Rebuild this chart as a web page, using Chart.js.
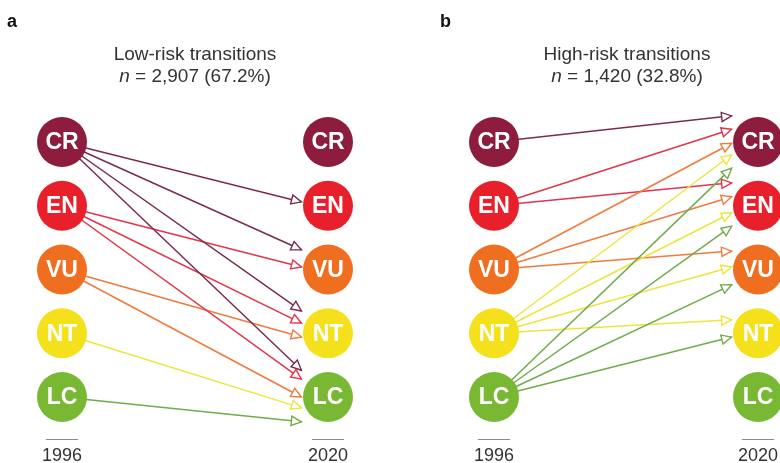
<!DOCTYPE html>
<html>
<head>
<meta charset="utf-8">
<script src="https://cdn.jsdelivr.net/npm/chart.js@4/dist/chart.umd.min.js"></script>
<style>
  html, body { margin: 0; padding: 0; background: #fff; }
  #page { position: relative; width: 780px; height: 463px; overflow: hidden;
          font-family: "Liberation Sans", Arial, sans-serif; color: #333; }
  .panel { position: absolute; top: 0; width: 390px; height: 463px; }
  .title { position: absolute; top: 43px; text-align: center; font-size: 19px;
           line-height: 22px; color: #333; white-space: nowrap; }
  .tag { position: absolute; top: 12px; font-weight: bold; font-size: 18px;
         line-height: 18px; color: #111; }
</style>
</head>
<body>
<div id="page">
  <div class="panel" style="left:0"><canvas id="lowChart"></canvas></div>
  <div class="panel" style="left:390px"><canvas id="highChart"></canvas></div>
  <div class="tag" style="left:7px">a</div>
  <div class="tag" style="left:440px">b</div>
  <div class="title" style="left:0;width:390px">Low-risk transitions<br><i>n</i> = 2,907 (67.2%)</div>
  <div class="title" style="left:447px;width:360px">High-risk transitions<br><i>n</i> = 1,420 (32.8%)</div>
</div>
<script>
// Red List categories, bottom (level 1) to top (level 5)
const statuses = ['LC', 'NT', 'VU', 'EN', 'CR'];
const years = ['1996', '2020'];
const circleColors = ['#79b833', '#f4e11c', '#f06e1f', '#e8202b', '#8d1c3d'];
const arrowColors  = ['#70ab4c', '#ebe63c', '#ee7b3e', '#e2344a', '#7a2c4e'];

// Low-risk transitions: source category and level where each arrow ends
const lowFrom = ['CR', 'CR', 'CR', 'CR', 'EN', 'EN', 'EN', 'VU', 'VU', 'NT', 'LC'];
const lowTo   = [4.06, 3.31, 2.35, 1.42, 3.04, 2.16, 1.28, 1.94, 1.00, 0.83, 0.61];

// High-risk transitions
const highFrom = ['CR', 'EN', 'VU', 'NT', 'LC', 'EN', 'VU', 'NT', 'LC', 'VU', 'NT', 'LC', 'NT', 'LC'];
const highTo   = [5.41, 5.20, 4.98, 4.80, 4.59, 4.36, 4.14, 3.89, 3.68, 3.29, 3.04, 2.76, 2.21, 1.94];

// horizontal position where arrow tips stop (0 = 1996 column, 1 = 2020 column)
const arrowEnd = 0.9;

const level = s => statuses.indexOf(s) + 1;

function buildDatasets(from, to) {
  const sets = from.map((s, i) => ({
    arrow: true,
    showLine: true,
    data: [{ x: 0, y: level(s) }, { x: arrowEnd, y: to[i] }],
    borderColor: arrowColors[level(s) - 1],
    borderWidth: 1.5,
    pointRadius: 0,
    pointHoverRadius: 0,
    clip: false,
    order: 2
  }));
  const nodes = [];
  const colors = [];
  const names = [];
  [0, 1].forEach(x => statuses.forEach((s, i) => {
    nodes.push({ x: x, y: i + 1 });
    colors.push(circleColors[i]);
    names.push(s);
  }));
  sets.push({
    nodeLabels: names,
    data: nodes,
    backgroundColor: colors,
    borderWidth: 0,
    pointRadius: 25,
    pointHoverRadius: 25,
    clip: false,
    order: 0
  });
  return sets;
}

// open triangular arrowheads at the end of each transition line
const arrowHeads = {
  id: 'arrowHeads',
  afterDatasetDraw(chart, args) {
    const ds = chart.data.datasets[args.index];
    if (!ds.arrow) return;
    const [a, b] = args.meta.data;
    const dx = b.x - a.x, dy = b.y - a.y;
    const len = Math.hypot(dx, dy);
    const ux = dx / len, uy = dy / len;
    const L = 10, W = 4.6;
    const bx = b.x - ux * L, by = b.y - uy * L;
    const ctx = chart.ctx;
    ctx.save();
    ctx.beginPath();
    ctx.moveTo(b.x, b.y);
    ctx.lineTo(bx - uy * W, by + ux * W);
    ctx.lineTo(bx + uy * W, by - ux * W);
    ctx.closePath();
    ctx.fillStyle = '#fff';
    ctx.fill();
    ctx.lineWidth = 1.4;
    ctx.lineJoin = 'miter';
    ctx.strokeStyle = ds.borderColor;
    ctx.stroke();
    ctx.restore();
  }
};

// category abbreviations inside the circles and short rules above the years
const nodeText = {
  id: 'nodeText',
  afterDatasetsDraw(chart) {
    const ctx = chart.ctx;
    chart.data.datasets.forEach((ds, di) => {
      if (!ds.nodeLabels) return;
      const meta = chart.getDatasetMeta(di);
      ctx.save();
      ctx.fillStyle = '#fff';
      ctx.font = 'bold 23px "Liberation Sans", Arial, sans-serif';
      ctx.textAlign = 'center';
      ctx.textBaseline = 'middle';
      meta.data.forEach((pt, i) => ctx.fillText(ds.nodeLabels[i], pt.x, pt.y + 1));
      ctx.restore();
    });
    const xs = chart.scales.x;
    ctx.save();
    ctx.strokeStyle = '#8a8a8a';
    ctx.lineWidth = 1;
    xs.ticks.forEach(t => {
      const px = xs.getPixelForValue(t.value);
      ctx.beginPath();
      ctx.moveTo(px - 16, xs.top + 4.5);
      ctx.lineTo(px + 16, xs.top + 4.5);
      ctx.stroke();
    });
    ctx.restore();
  }
};

function makeChart(id, from, to, xMin, xMax) {
  return new Chart(document.getElementById(id), {
    type: 'scatter',
    data: { datasets: buildDatasets(from, to) },
    options: {
      responsive: true,
      maintainAspectRatio: false,
      animation: false,
      events: [],
      layout: { padding: 0, autoPadding: false },
      plugins: { legend: { display: false }, tooltip: { enabled: false }, title: { display: false } },
      scales: {
        x: {
          type: 'linear', min: xMin, max: xMax,
          grid: { display: false, drawTicks: false },
          border: { display: false },
          afterBuildTicks: s => { s.ticks = [{ value: 0 }, { value: 1 }]; },
          afterFit: s => { s.height = 28; s.paddingLeft = 0; s.paddingRight = 0; },
          ticks: {
            padding: 10,
            color: '#333',
            font: { size: 18, family: '"Liberation Sans", Arial, sans-serif' },
            callback: v => years[v]
          }
        },
        y: { type: 'linear', display: false, min: 0.404, max: 7.2275 }
      }
    },
    plugins: [arrowHeads, nodeText]
  });
}

makeChart('lowChart', lowFrom, lowTo, -0.2331, 1.2331);
makeChart('highChart', highFrom, highTo, -0.3939, 1.0833);
</script>
</body>
</html>
